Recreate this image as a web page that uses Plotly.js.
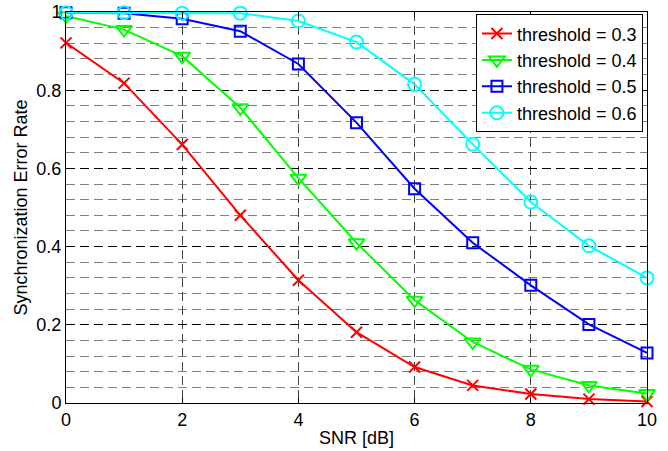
<!DOCTYPE html>
<html>
<head>
<meta charset="utf-8">
<script src="https://cdn.plot.ly/plotly-3.0.1.min.js"></script>
<style>html,body{margin:0;padding:0;background:#fff;}</style>
</head>
<body>
<div id="chart" style="width:668px;height:451px;"></div>
<script>
const snr = [0, 1, 2, 3, 4, 5, 6, 7, 8, 9, 10];
const thr03 = [0.921, 0.818, 0.661, 0.480, 0.314, 0.181, 0.092, 0.045, 0.023, 0.010, 0.004];
const thr04 = [0.990, 0.955, 0.887, 0.755, 0.575, 0.410, 0.263, 0.156, 0.086, 0.045, 0.024];
const thr05 = [0.998, 0.997, 0.983, 0.951, 0.867, 0.717, 0.548, 0.410, 0.301, 0.201, 0.128];
const thr06 = [0.998, 0.998, 0.997, 0.997, 0.977, 0.923, 0.815, 0.662, 0.514, 0.402, 0.320];
const seriesNames = ['threshold = 0.3', 'threshold = 0.4', 'threshold = 0.5', 'threshold = 0.6'];
const xTicks = [0, 2, 4, 6, 8, 10];
const yTicks = [0, 0.2, 0.4, 0.6, 0.8, 1];
const yTickText = ['0', '0.2', '0.4', '0.6', '0.8', '1'];

const styles = [
  {color: '#ff0000', symbol: 'x-thin-open', size: 11},
  {color: '#00ff00', symbol: 'triangle-down-open', size: 14},
  {color: '#0000ff', symbol: 'square-open', size: 11},
  {color: '#00ffff', symbol: 'circle-open', size: 13}
];
const allY = [thr03, thr04, thr05, thr06];

const traces = allY.map((ys, i) => ({
  x: snr, y: ys, name: seriesNames[i], type: 'scatter', mode: 'lines+markers',
  cliponaxis: false,
  line: {color: styles[i].color, width: 2},
  marker: {symbol: styles[i].symbol, size: styles[i].size, color: styles[i].color,
           line: {color: styles[i].color, width: 2}}
}));

const font = {family: 'Arial, "Liberation Sans", sans-serif', size: 18, color: '#000'};

const layout = {
  width: 668, height: 451,
  margin: {l: 66, r: 21, t: 12, b: 48},
  paper_bgcolor: '#fff', plot_bgcolor: '#fff',
  font: font,
  showlegend: true,
  legend: {
    x: 0.993, y: 0.994, xanchor: 'right', yanchor: 'top',
    bgcolor: '#fff', bordercolor: '#000', borderwidth: 1,
    font: {family: font.family, size: 18, color: '#000'},
    itemwidth: 30, tracegroupgap: 0
  },
  xaxis: {
    range: [0, 10], tickvals: xTicks, ticks: 'inside', ticklen: 5, tickcolor: '#000',
    showline: true, mirror: 'ticks', linecolor: '#000', linewidth: 1,
    showgrid: true, gridcolor: '#444', griddash: '9px,5px', gridwidth: 1,
    zeroline: false, tickfont: font,
    title: {text: 'SNR [dB]', font: font, standoff: 2}
  },
  yaxis: {
    range: [0, 1], tickvals: yTicks, ticktext: yTickText, ticks: 'inside', ticklen: 5, tickcolor: '#000',
    showline: true, mirror: 'ticks', linecolor: '#000', linewidth: 1,
    showgrid: true, gridcolor: '#000', griddash: '9px,5px', gridwidth: 1,
    minor: {dtick: 0.04, tick0: 0, showgrid: true, gridcolor: '#808080', griddash: '9px,5px', gridwidth: 1, ticks: ''},
    zeroline: false, tickfont: font,
    title: {text: 'Synchronization Error Rate', font: font, standoff: 4}
  }
};

Plotly.newPlot('chart', traces, layout, {displayModeBar: false, staticPlot: true});
</script>
</body>
</html>
